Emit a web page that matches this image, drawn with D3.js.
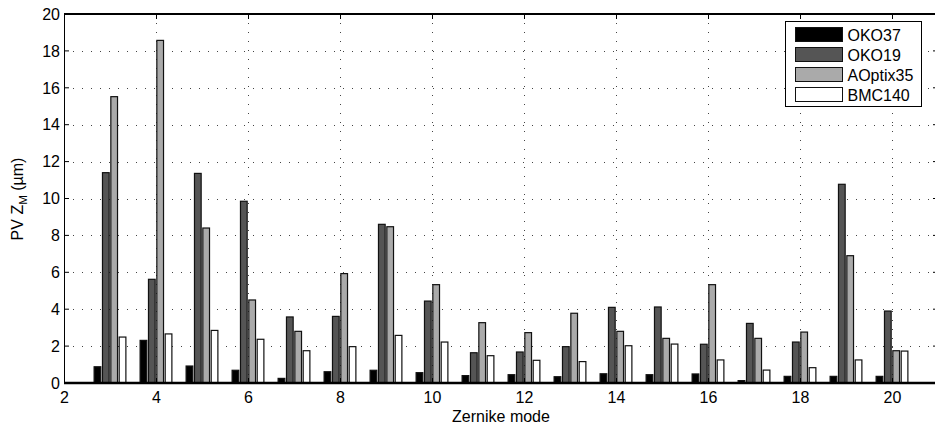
<!DOCTYPE html>
<html>
<head>
<meta charset="utf-8">
<script src="https://cdn.jsdelivr.net/npm/d3@7"></script>
<style>
  body { margin: 0; background: #fff; }
  svg { display: block; font-family: "Liberation Sans", Arial, sans-serif; }
</style>
</head>
<body>
<div class="chart"></div>
<script>
// Zernike modes on the x axis
const modes = [3, 4, 5, 6, 7, 8, 9, 10, 11, 12, 13, 14, 15, 16, 17, 18, 19, 20];
const seriesNames = ['OKO37', 'OKO19', 'AOptix35', 'BMC140'];
const oko37    = [0.88, 2.31, 0.92, 0.69, 0.25, 0.61, 0.69, 0.56, 0.40, 0.45, 0.34, 0.50, 0.45, 0.49, 0.13, 0.36, 0.36, 0.36];
const oko19    = [11.40, 5.62, 11.36, 9.85, 3.58, 3.61, 8.60, 4.44, 1.64, 1.68, 1.97, 4.10, 4.12, 2.10, 3.23, 2.22, 10.77, 3.90];
const aoptix35 = [15.52, 18.57, 8.40, 4.50, 2.80, 5.93, 8.47, 5.33, 3.27, 2.73, 3.78, 2.80, 2.42, 5.33, 2.42, 2.76, 6.90, 1.75];
const bmc140   = [2.49, 2.66, 2.85, 2.37, 1.75, 1.97, 2.58, 2.22, 1.48, 1.23, 1.16, 2.02, 2.11, 1.25, 0.70, 0.83, 1.25, 1.73];
const xTicks = [2, 4, 6, 8, 10, 12, 14, 16, 18, 20];
const yTicks = [0, 2, 4, 6, 8, 10, 12, 14, 16, 18, 20];

const seriesValues = [oko37, oko19, aoptix35, bmc140];
const colors = ['#000000', '#555555', '#aaaaaa', '#ffffff'];

const FULL_WIDTH = 935;
const FULL_HEIGHT = 428;
const FONT = 16;
const margin = { top: 14, left: 64 };
const plotRight = 938;
const plotBottom = 383;

const svg = d3.select('.chart')
  .append('svg')
    .attr('width', FULL_WIDTH)
    .attr('height', FULL_HEIGHT);

const x = d3.scaleLinear().domain([2, 21]).range([margin.left, plotRight]);
const y = d3.scaleLinear().domain([0, 20]).range([plotBottom, margin.top]);

// grouped bars, matlab style: group width 0.727 of a unit
const groupW = x(2.727) - x(2);
const sub = d3.scaleBand()
  .domain(seriesNames)
  .range([-groupW / 2, groupW / 2])
  .paddingInner(0.2)
  .paddingOuter(0.1);

// grid
const grid = svg.append('g')
  .attr('stroke', '#444')
  .attr('stroke-width', 1)
  .attr('stroke-dasharray', '1,8');
grid.selectAll('.gx')
  .data(xTicks.filter(d => d > 2))
  .enter().append('line')
    .attr('x1', d => Math.round(x(d)) + 0.5)
    .attr('x2', d => Math.round(x(d)) + 0.5)
    .attr('y1', y(20))
    .attr('y2', y(0));
grid.selectAll('.gy')
  .data(yTicks.filter(d => d > 0 && d < 20))
  .enter().append('line')
    .attr('y1', d => Math.round(y(d)) + 0.5)
    .attr('y2', d => Math.round(y(d)) + 0.5)
    .attr('x1', x(2))
    .attr('x2', plotRight);

// bars
const rows = [];
seriesNames.forEach((s, i) => {
  modes.forEach((m, j) => rows.push({ series: s, idx: i, mode: m, value: seriesValues[i][j] }));
});

svg.append('g')
  .selectAll('rect')
  .data(rows)
  .enter().append('rect')
    .attr('x', d => x(d.mode) + sub(d.series))
    .attr('width', sub.bandwidth())
    .attr('y', d => y(d.value))
    .attr('height', d => y(0) - y(d.value))
    .attr('fill', d => colors[d.idx])
    .attr('stroke', '#111')
    .attr('stroke-width', 1.2);

// frame
const frame = svg.append('g').attr('stroke', '#000').attr('fill', 'none');
frame.append('line').attr('x1', x(2)).attr('x2', plotRight).attr('y1', y(20)).attr('y2', y(20)).attr('stroke-width', 2);
frame.append('line').attr('x1', x(2)).attr('x2', plotRight).attr('y1', y(0)).attr('y2', y(0)).attr('stroke-width', 2.5);
frame.append('line').attr('x1', x(2) + 0.5).attr('x2', x(2) + 0.5).attr('y1', y(20)).attr('y2', y(0)).attr('stroke-width', 1);
frame.append('line').attr('x1', plotRight).attr('x2', plotRight).attr('y1', y(20)).attr('y2', y(0)).attr('stroke-width', 1);

// inward ticks
yTicks.forEach(t => {
  frame.append('line').attr('x1', x(2)).attr('x2', x(2) + 5).attr('y1', y(t)).attr('y2', y(t));
  frame.append('line').attr('x1', plotRight - 5).attr('x2', plotRight).attr('y1', y(t)).attr('y2', y(t));
});
xTicks.forEach(t => {
  frame.append('line').attr('x1', x(t) + 0.5).attr('x2', x(t) + 0.5).attr('y1', y(20)).attr('y2', y(20) + 5);
  frame.append('line').attr('x1', x(t) + 0.5).attr('x2', x(t) + 0.5).attr('y1', y(0)).attr('y2', y(0) - 5);
});

// tick labels
svg.append('g')
  .selectAll('text')
  .data(yTicks)
  .enter().append('text')
    .attr('x', x(2) - 4)
    .attr('y', d => y(d))
    .attr('dy', '0.36em')
    .attr('text-anchor', 'end')
    .attr('font-size', FONT)
    .text(d => d);

svg.append('g')
  .selectAll('text')
  .data(xTicks)
  .enter().append('text')
    .attr('x', d => x(d) + 0.5)
    .attr('y', 402.5)
    .attr('text-anchor', 'middle')
    .attr('font-size', FONT)
    .text(d => d);

svg.append('text')
  .attr('x', (x(2) + plotRight) / 2)
  .attr('y', 421.5)
  .attr('text-anchor', 'middle')
  .attr('font-size', FONT)
  .text('Zernike mode');

const yLabel = svg.append('text')
  .attr('transform', 'translate(23,199) rotate(-90)')
  .attr('text-anchor', 'middle')
  .attr('font-size', FONT);
yLabel.append('tspan').text('PV Z');
yLabel.append('tspan').attr('font-size', 11.5).attr('dy', 4).text('M');
yLabel.append('tspan').attr('dy', -4).text(' (\u00b5m)');

// legend
const legend = svg.append('g');
legend.append('rect')
  .attr('x', 785.5).attr('y', 21.5)
  .attr('width', 136).attr('height', 85)
  .attr('fill', '#fff').attr('stroke', '#000');
seriesNames.forEach((s, i) => {
  legend.append('rect')
    .attr('x', 795.5).attr('y', 27.5 + i * 20)
    .attr('width', 47).attr('height', 14)
    .attr('fill', colors[i]).attr('stroke', '#111');
  legend.append('text')
    .attr('x', 847.5).attr('y', 40.5 + i * 20)
    .attr('font-size', FONT)
    .text(s);
});
</script>
</body>
</html>
